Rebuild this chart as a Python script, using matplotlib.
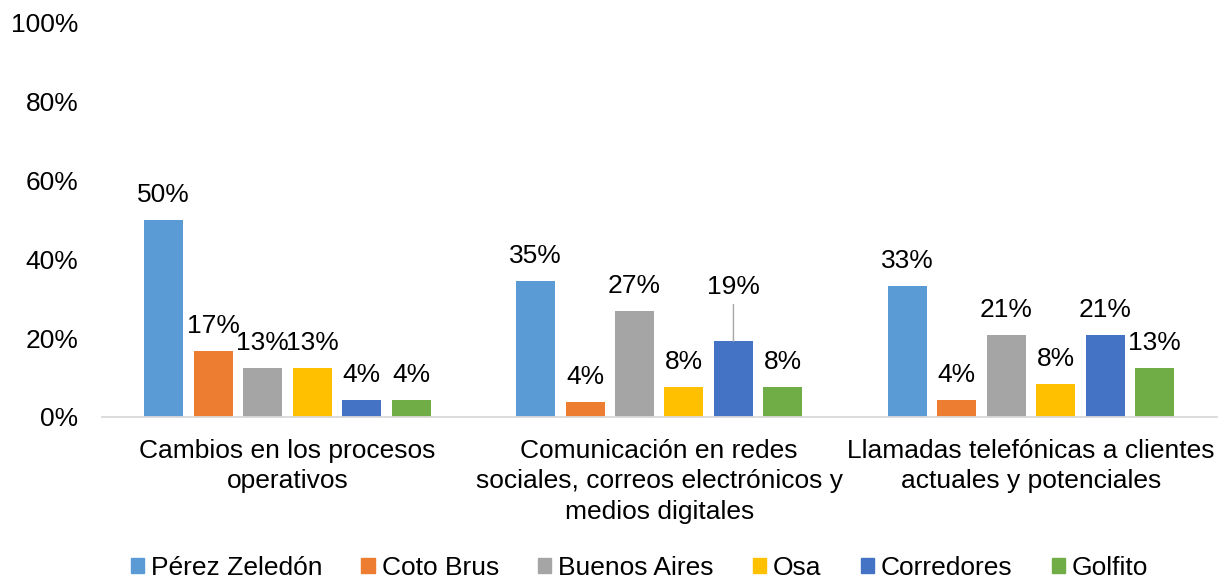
import matplotlib
matplotlib.use("Agg")
import matplotlib.pyplot as plt
import numpy as np
from matplotlib.patches import Patch

plt.rcParams['font.family'] = ['Liberation Sans', 'DejaVu Sans']

categories = ["Cambios en los procesos\noperativos",
              "Comunicación en redes\nsociales, correos electrónicos y\nmedios digitales",
              "Llamadas telefónicas a clientes\nactuales y potenciales"]
series = ["Pérez Zeledón", "Coto Brus", "Buenos Aires", "Osa", "Corredores", "Golfito"]
perez = [50.0, 34.6, 33.3]
coto = [16.7, 3.8, 4.2]
buenos = [12.5, 26.9, 20.8]
osa = [12.5, 7.7, 8.3]
corredores = [4.2, 19.2, 20.8]
golfito = [4.2, 7.7, 12.5]
values = [perez, coto, buenos, osa, corredores, golfito]
colors = ["#5B9BD5", "#ED7D31", "#A5A5A5", "#FFC000", "#4472C4", "#70AD47"]
yticks = [0, 20, 40, 60, 80, 100]

FS = 19

fig = plt.figure(figsize=(12.29, 5.78), dpi=100)
ax = fig.add_axes([101.5/1229, 161/578, (1217-101.5)/1229, 394/578])

x = np.arange(len(categories))
width = 0.105
step = 0.133
for i, (name, vals, c) in enumerate(zip(series, values, colors)):
    pos = x + (i - 2.5) * step
    ax.bar(pos, vals, width=width, color=c, label=name, zorder=2)
    for j, (p, v) in enumerate(zip(pos, vals)):
        lab = f"{int(v + 0.5)}%"
        if name == "Corredores" and j == 1:
            ax.annotate(lab, (p, v), xytext=(0, 34), textcoords='offset points',
                        ha='center', va='baseline', fontsize=FS)
            ax.annotate("", (p, v), xytext=(0, 26.5), textcoords='offset points',
                        arrowprops=dict(arrowstyle='-', color='#A6A6A6', lw=1,
                                        shrinkA=0, shrinkB=0))
        else:
            ax.annotate(lab, (p, v), xytext=(0, 13), textcoords='offset points',
                        ha='center', va='baseline', fontsize=FS)

ax.set_xlim(-0.5, 2.5)
ax.set_ylim(0, 100)
ax.set_yticks(yticks)
ax.set_yticklabels([f"{t}%" for t in yticks], fontsize=FS)
ax.set_xticks(x)
ax.set_xticklabels(categories, fontsize=FS, linespacing=1.33)
ax.tick_params(axis='both', length=0)
ax.tick_params(axis='y', pad=16.5)
ax.tick_params(axis='x', pad=16)
for s in ['top', 'right', 'left']:
    ax.spines[s].set_visible(False)
ax.spines['bottom'].set_color('#D9D9D9')
ax.spines['bottom'].set_linewidth(1.3)

handles = [Patch(color=c, label=n) for n, c in zip(series, colors)]
fig.legend(handles=handles, loc='center', bbox_to_anchor=(639.5/1229, 10/578), ncol=6,
           frameon=False, fontsize=FS, handlelength=0.5, handleheight=0.5,
           handletextpad=0.27, columnspacing=1.48)

fig.savefig("out.png", dpi=100)
